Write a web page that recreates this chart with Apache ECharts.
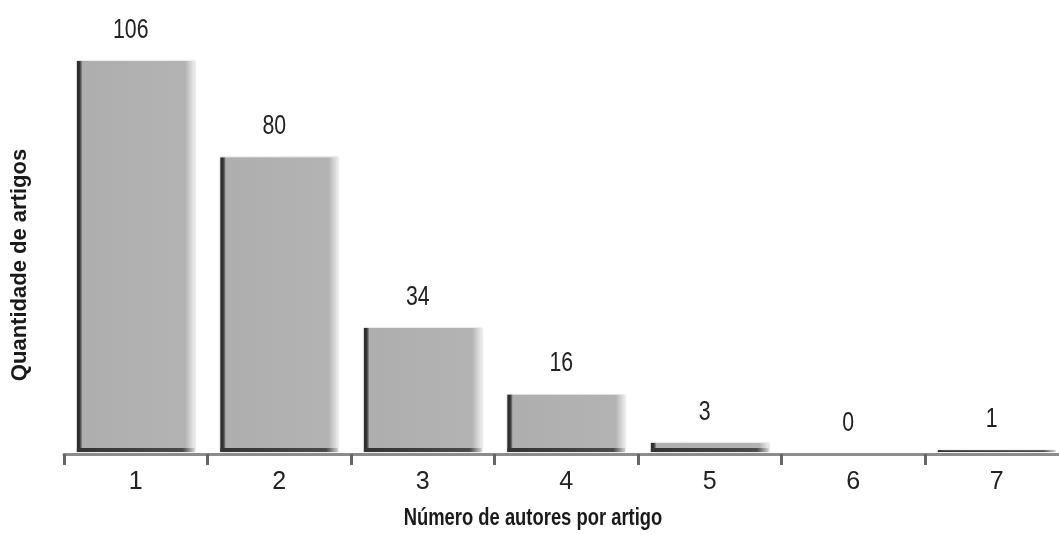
<!DOCTYPE html>
<html>
<head>
<meta charset="utf-8">
<script src="https://cdn.jsdelivr.net/npm/echarts@6/dist/echarts.min.js"></script>
<style>
  html, body { margin: 0; padding: 0; background: #fff; }
  #chart { width: 1059px; height: 535px; }
</style>
</head>
<body>
<div id="chart"></div>
<script>
// Number of authors per article and how many articles have that count
const authorCounts = ['1', '2', '3', '4', '5', '6', '7'];
const articleCounts = [106, 80, 34, 16, 3, 0, 1];

const xTitle = 'Número de autores por artigo';
const yTitle = 'Quantidade de artigos';

const FONT = '"Liberation Sans", Arial, Helvetica, sans-serif';

const chart = echarts.init(document.getElementById('chart'));

// Each bar is a flat grey block with a dark left edge and a dark footing,
// its right side fading out; the count sits above it in condensed type
function renderBar(params, api) {
  const idx = api.value(0);
  const val = api.value(1);
  const top = api.coord([idx, val]);
  const base = api.coord([idx, 0]);
  const w = api.size([1, 0])[0] * 0.82;
  const x = top[0] - w / 2;
  const bottom = base[1] - 2;
  const h = bottom - top[1];
  const children = [];
  if (h > 0) {
    children.push({
      type: 'rect',
      shape: { x: x, y: top[1], width: w, height: h },
      style: {
        fill: new echarts.graphic.LinearGradient(0, 0, 1, 0, [
          { offset: 0, color: '#aeaeae' },
          { offset: 0.92, color: '#b3b3b3' },
          { offset: 1, color: '#ececec' }
        ]),
        shadowBlur: 2,
        shadowColor: 'rgba(150,150,150,0.5)'
      }
    });
    children.push({
      type: 'rect',
      shape: { x: x, y: top[1], width: 5, height: h },
      style: {
        fill: new echarts.graphic.LinearGradient(0, 0, 1, 0, [
          { offset: 0, color: '#2a2a2a' },
          { offset: 0.55, color: '#333333' },
          { offset: 1, color: '#8a8a8a' }
        ])
      }
    });
    const fh = Math.min(4, h);
    children.push({
      type: 'rect',
      shape: { x: x, y: bottom - fh, width: w, height: fh },
      style: {
        fill: new echarts.graphic.LinearGradient(0, 0, 1, 0, [
          { offset: 0, color: '#333333' },
          { offset: 0.9, color: '#4a4a4a' },
          { offset: 1, color: 'rgba(140,140,140,0.3)' }
        ])
      }
    });
  }
  children.push({
    type: 'text',
    x: top[0] - 5,
    y: Math.min(top[1], base[1]) - 31,
    scaleX: 0.76,
    style: {
      text: String(val),
      x: 0,
      y: 0,
      align: 'center',
      verticalAlign: 'middle',
      font: '28px ' + FONT,
      fill: '#222222'
    }
  });
  return { type: 'group', children: children };
}

chart.setOption({
  animation: false,
  backgroundColor: '#ffffff',
  grid: { left: 64, top: 61, width: 1004.5, height: 393, outerBoundsMode: 'none', containLabel: false },
  xAxis: {
    type: 'category',
    data: authorCounts,
    boundaryGap: true,
    axisLine: { lineStyle: { color: '#8c8c8c', width: 3 } },
    axisTick: { show: true, interval: 0, length: 11, lineStyle: { color: '#666666', width: 3 } },
    axisLabel: { fontFamily: FONT, fontSize: 25, color: '#222222', margin: 16, interval: 0 }
  },
  yAxis: {
    type: 'value',
    min: 0,
    max: 106,
    show: false
  },
  graphic: [
    {
      type: 'text',
      x: 533,
      y: 519,
      scaleX: 0.8,
      style: {
        text: xTitle,
        x: 0,
        y: 0,
        align: 'center',
        verticalAlign: 'middle',
        font: 'bold 23px ' + FONT,
        fill: '#1a1a1a'
      }
    },
    {
      type: 'text',
      x: 20,
      y: 265,
      rotation: Math.PI / 2,
      style: {
        text: yTitle,
        x: 0,
        y: 0,
        align: 'center',
        verticalAlign: 'middle',
        font: 'bold 22px ' + FONT,
        fill: '#1a1a1a'
      }
    }
  ],
  series: [{
    type: 'custom',
    renderItem: renderBar,
    encode: { x: 0, y: 1 },
    clip: false,
    data: articleCounts.map((v, i) => [i, v])
  }]
});
</script>
</body>
</html>
